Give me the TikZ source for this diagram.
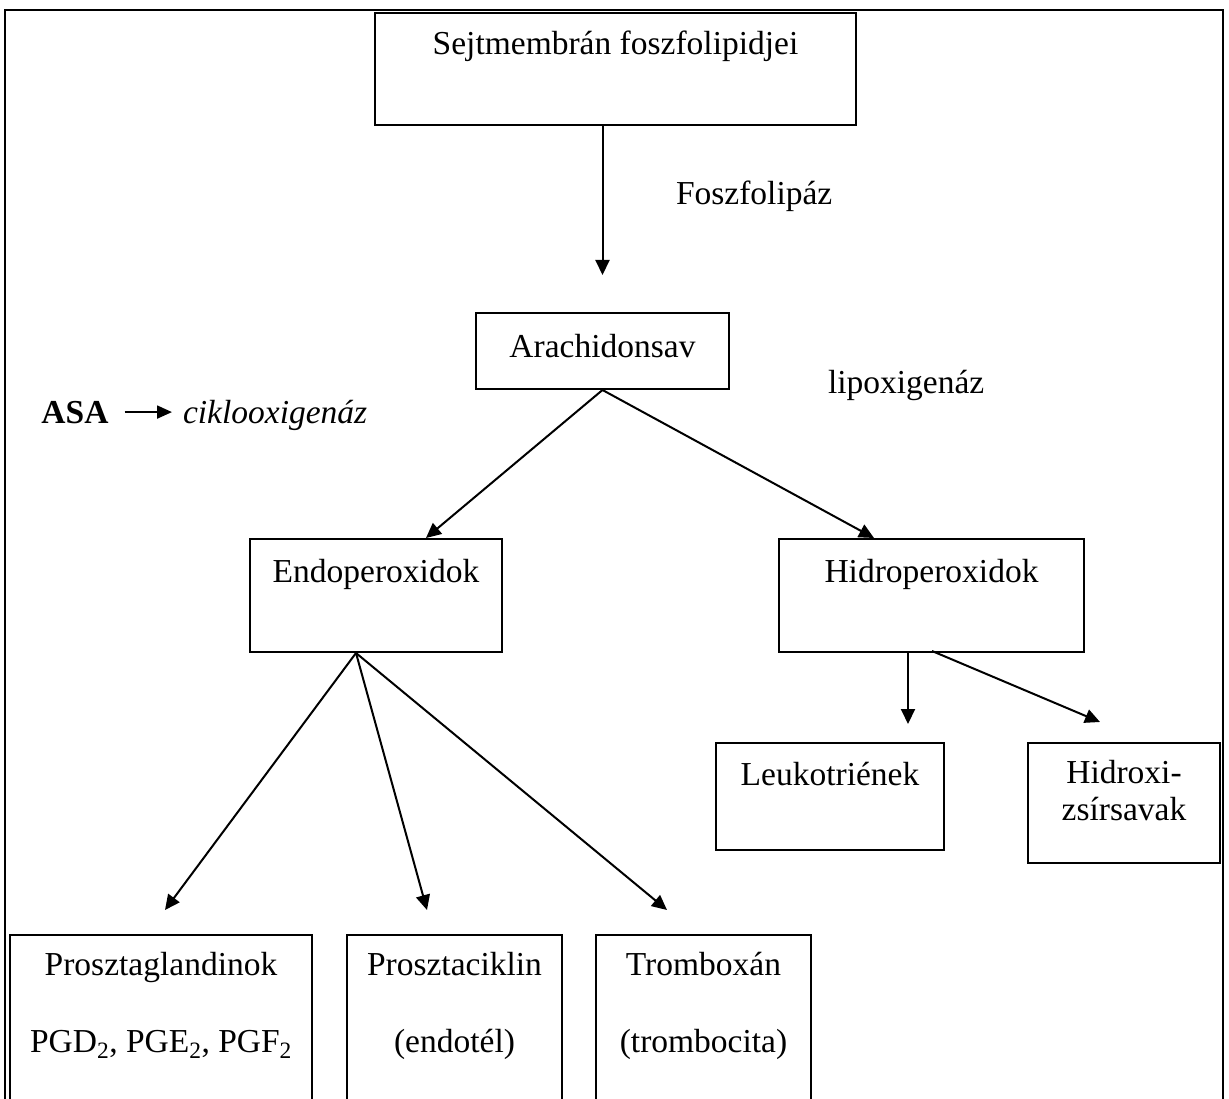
\documentclass[tikz,border=0pt]{standalone}
\usepackage{fontspec}
\setmainfont{Liberation Serif}
\usetikzlibrary{arrows.meta,calc}
\begin{document}
\begin{tikzpicture}[x=1pt,y=-1pt,line width=2pt,
  every node/.style={font=\fontsize{33.5}{40}\selectfont},
  box/.style={draw,line width=2pt,inner xsep=0pt,inner ysep=0pt,anchor=base},
  txt/.style={inner sep=0pt,anchor=base},
  arr/.style={-{Triangle[length=15pt,width=14pt]},line width=2pt},
  sarr/.style={-{Triangle[length=15pt,width=13pt]},line width=2pt}]
\useasboundingbox (0,0) rectangle (1229,1099);
\clip (0,0) rectangle (1229,1099);
\fill[white] (0,0) rectangle (1229,1099);
% outer frame (open at the bottom)
\draw (5,1120) -- (5,10) -- (1223,10) -- (1223,1120);

% boxes
\node[box,minimum width=481pt,text height=42pt,text depth=70pt] (top) at (615.5,55) {Sejtmembrán foszfolipidjei};
\node[box,minimum width=253pt,text height=44pt,text depth=32pt] (arach) at (602.5,357) {Arachidonsav};
\node[box,minimum width=252pt,text height=43pt,text depth=70pt] (endo) at (376,582) {Endoperoxidok};
\node[box,minimum width=305pt,text height=43pt,text depth=70pt] (hidro) at (931.5,582) {Hidroperoxidok};
\node[box,minimum width=228pt,text height=42pt,text depth=65pt] (leuko) at (830,785) {Leukotriének};
\node[box,minimum width=192pt,text height=40pt,text depth=80pt] (hidroxi) at (1124,783) {Hidroxi-};
\node[txt] (hidroxi2) at (1124,820) {zsírsavak};
\node[box,minimum width=302pt,text height=40pt,text depth=160pt] (pg) at (161,975) {Prosztaglandinok};
\node[txt] (pg2) at (161,1052) {PGD\textsubscript{2}, PGE\textsubscript{2}, PGF\textsubscript{2}};
\node[box,minimum width=215pt,text height=40pt,text depth=160pt] (pc) at (454.5,975) {Prosztaciklin};
\node[txt] (pc2) at (454.5,1052) {(endotél)};
\node[box,minimum width=215pt,text height=40pt,text depth=160pt] (tx) at (703.5,975) {Tromboxán};
\node[txt] (tx2) at (703.5,1052) {(trombocita)};

% labels
\node[txt,anchor=base west] (foszf) at (675,205) {Foszfolipáz};
\node[txt,anchor=base west] (lipox) at (827,393) {lipoxigenáz};
\node[txt] (asa) at (75,423) {\bfseries ASA};
\node[txt,anchor=base west] (cik) at (182,423) {\itshape ciklooxigenáz};

% arrow end points
\coordinate (t1) at (602.5,275);
\coordinate (t2) at ($(endo.north)+(50,0)$);
\coordinate (t3) at ($(hidro.north)+(-57.5,0)$);
\coordinate (e0) at ($(endo.south)+(-20,0)$);
\coordinate (t4) at (165,910);
\coordinate (t5) at (427,910);
\coordinate (t6) at (667,910);
\coordinate (h1) at ($(hidro.south)+(-23.5,0)$);
\coordinate (h2) at ($(hidro.south)+(0.5,-2)$);
\coordinate (t7) at ($(h1)+(0,71)$);
\coordinate (t8) at (1100,722);

% connectors
\draw[arr] (top.south -| arach.north) -- (t1);
\draw[arr] (arach.south) -- (t2);
\draw[arr] (arach.south) -- (t3);
\draw[arr] (e0) -- (t4);
\draw[arr] (e0) -- (t5);
\draw[arr] (e0) -- (t6);
\draw[arr] (h1) -- (t7);
\draw[arr] (h2) -- (t8);
\draw[sarr] ($(asa.east)+(15,0)$) -- ($(asa.east -| cik.west)+(-10,0)$);
\end{tikzpicture}
\end{document}
